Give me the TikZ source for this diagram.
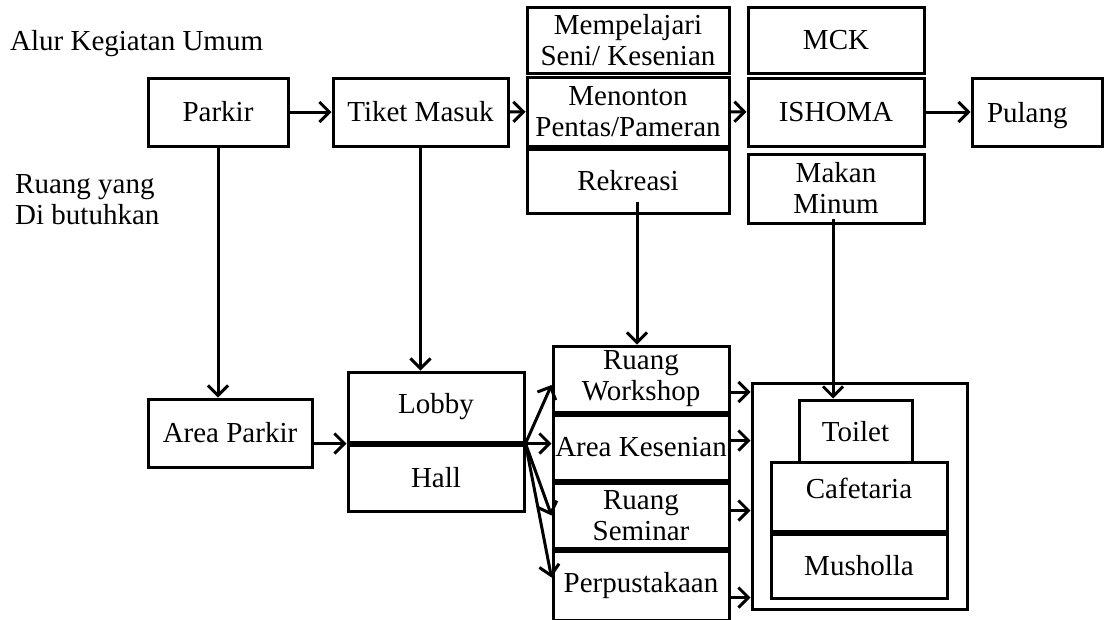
\documentclass[tikz,border=0pt]{standalone}
\usepackage{fontspec}
\setmainfont{Liberation Serif}
\usetikzlibrary{calc, positioning, arrows.meta}

\begin{document}
\begin{tikzpicture}[
  x=1pt, y=-1pt,
  box/.style={rectangle, draw, line width=3pt, inner sep=0pt, text centered, align=center, font=\fontsize{29}{31}\selectfont},
  note/.style={inner sep=0pt, align=left, font=\fontsize{29}{31}\selectfont},
  arr/.style={-{Straight Barb[length=10pt, width=20pt]}, line width=3pt}
]
\useasboundingbox (0,0) rectangle (1104,619);

% headings on the left
\node[note, anchor=base west] (alur) at (10,50) {Alur Kegiatan Umum};
\node[note, anchor=north west] (butuh) at (15,174) {Ruang yang\\Di butuhkan};

% activity flow
\node[box, minimum width=140pt, minimum height=68pt] (parkir) at (218,112) {Parkir};
\node[box, minimum width=175pt, minimum height=68pt] (tiket) at (420.5,112) {Tiket Masuk};
\node[box, minimum width=202pt, minimum height=66pt] (belajar) at (628,40) {Mempelajari\\Seni/ Kesenian};
\node[box, minimum width=202pt, minimum height=69pt, below=1pt of belajar] (nonton) {Menonton\\Pentas/Pameran};
\node[box, minimum width=202pt, minimum height=64pt, below=0pt of nonton] (rekreasi) {Rekreasi};
\node[box, minimum width=176pt, minimum height=66pt] (mck) at (836,40) {MCK};
\node[box, minimum width=176pt, minimum height=68pt, below=2pt of mck] (ishoma) {ISHOMA};
\node[box, minimum width=176pt, minimum height=69pt, below=5pt of ishoma] (makan) {Makan\\Minum};
\node[box, minimum width=130pt, minimum height=68pt, text width=100pt, align=left, text depth=0pt] (pulang) at (1037,112) {Pulang};

% rooms needed
\node[box, minimum width=164pt, minimum height=68pt] (areaparkir) at (230,433) {Area Parkir};
\node[box, minimum width=176pt, minimum height=70pt] (lobby) at (436,407) {Lobby};
\node[box, minimum width=176pt, minimum height=66pt, below=0pt of lobby] (hall) {Hall};
\node[box, minimum width=176pt, minimum height=66pt] (workshop) at (641,379) {Ruang\\Workshop};
\node[box, minimum width=176pt, minimum height=65pt, below=0pt of workshop] (kesenian) {Area Kesenian};
\node[box, minimum width=176pt, minimum height=65pt, below=0pt of kesenian] (seminar) {Ruang\\Seminar};
\node[box, minimum width=176pt, minimum height=69pt, below=0pt of seminar] (perpus) {Perpustakaan};
\node[box, minimum width=215pt, minimum height=226pt] (servis) at (859.5,496) {};
\node[box, minimum width=113pt, minimum height=62pt, text depth=0pt] (toilet) at (855.5,431) {Toilet};
\node[box, minimum width=176pt, minimum height=69pt, text depth=16pt] (cafe) at (859,496.5) {Cafetaria};
\node[box, minimum width=176pt, minimum height=64pt, below=0pt of cafe] (musholla) {Musholla};

\coordinate (rekdrop) at ([xshift=9pt, yshift=13pt]rekreasi.south);
\coordinate (makdrop) at ([xshift=-3pt, yshift=6pt]makan.south);

\draw[arr] (parkir) -- (tiket);
\draw[arr] (tiket) -- (nonton);
\draw[arr] (nonton) -- (ishoma);
\draw[arr] (ishoma) -- (pulang);

\draw[arr] (parkir.south) -- (parkir.south |- areaparkir.north);
\draw[arr] (tiket.south) -- (tiket.south |- lobby.north);
\draw[arr] (rekdrop) -- (rekdrop |- workshop.north);
\draw[arr] (makdrop) -- (makdrop |- toilet.north);

\draw[arr] (areaparkir.east |- lobby.south) -- (lobby.south west);
\draw[arr] (lobby.south east) -- ([yshift=-6pt]workshop.west);
\draw[arr] (lobby.south east) -- (lobby.south east -| kesenian.west);
\draw[arr] (lobby.south east) -- (seminar.west);
\draw[arr] (lobby.south east) -- ([yshift=8pt]perpus.west);

\coordinate (wsout) at ([yshift=-13pt]workshop.east);
\coordinate (ksout) at ([yshift=7pt]kesenian.east);
\coordinate (smout) at ([yshift=5pt]seminar.east);
\coordinate (ppout) at ([yshift=-12pt]perpus.east);
\draw[arr] (wsout) -- (wsout -| servis.west);
\draw[arr] (ksout) -- (ksout -| servis.west);
\draw[arr] (smout) -- (smout -| servis.west);
\draw[arr] (ppout) -- (ppout -| servis.west);
\end{tikzpicture}
\end{document}
